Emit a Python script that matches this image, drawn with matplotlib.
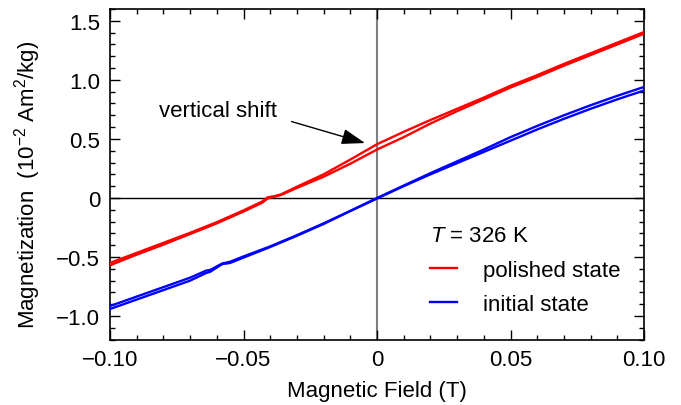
import matplotlib
matplotlib.use("Agg")
import matplotlib.pyplot as plt
from matplotlib.ticker import FixedLocator, FixedFormatter, MultipleLocator

plt.rcParams['font.family'] = ['Liberation Sans', 'DejaVu Sans']
plt.rcParams['mathtext.fontset'] = 'custom'
plt.rcParams['mathtext.rm'] = 'Liberation Sans'
plt.rcParams['mathtext.it'] = 'Liberation Sans:italic'
plt.rcParams['font.size'] = 16

# ---- data ----
H_red = [-0.10, -0.09, -0.08, -0.07, -0.06, -0.05, -0.043, -0.041, -0.0385, -0.036,
         -0.03, -0.02, -0.01, 0.0, 0.01, 0.02, 0.03, 0.04, 0.05, 0.06, 0.07, 0.08, 0.09, 0.10]
M_red_upper = [-0.55, -0.465, -0.38, -0.295, -0.205, -0.105, -0.03, 0.005, 0.015, 0.03,
               0.095, 0.20, 0.325, 0.455, 0.56, 0.66, 0.755, 0.85, 0.95, 1.04, 1.135, 1.225, 1.315, 1.405]
M_red_lower = [-0.57, -0.48, -0.395, -0.305, -0.215, -0.115, -0.04, -0.005, 0.01, 0.025,
               0.085, 0.18, 0.29, 0.41, 0.515, 0.63, 0.735, 0.835, 0.935, 1.025, 1.12, 1.21, 1.30, 1.39]

H_blue = [-0.10, -0.09, -0.08, -0.07, -0.064, -0.0625, -0.058, -0.055, -0.05, -0.04, -0.03,
          -0.02, -0.01, 0.0, 0.01, 0.02, 0.03, 0.04, 0.05, 0.06, 0.07, 0.08, 0.09, 0.10]
M_blue_upper = [-0.915, -0.835, -0.755, -0.675, -0.615, -0.61, -0.555, -0.54, -0.495, -0.41, -0.315,
                -0.215, -0.11, 0.0, 0.105, 0.21, 0.31, 0.41, 0.515, 0.61, 0.70, 0.785, 0.865, 0.94]
M_blue_lower = [-0.94, -0.86, -0.78, -0.70, -0.635, -0.625, -0.56, -0.55, -0.505, -0.415, -0.32,
                -0.22, -0.11, -0.005, 0.10, 0.20, 0.295, 0.39, 0.485, 0.58, 0.67, 0.755, 0.835, 0.91]

x_ticks = [-0.10, -0.05, 0.0, 0.05, 0.10]
x_labels = ['\u22120.10', '\u22120.05', '0', '0.05', '0.10']
y_ticks = [-1.0, -0.5, 0.0, 0.5, 1.0, 1.5]
y_labels = ['\u22121.0', '\u22120.5', '0', '0.5', '1.0', '1.5']

fig = plt.figure(figsize=(6.81, 4.06), dpi=100)
ax = fig.add_axes([110/681, 1 - 340.7/406, (644-110)/681, (340.7-10)/406])

ax.axhline(0, color='black', lw=1.0, zorder=1)
ax.axvline(0, color='#808080', lw=1.5, zorder=1)

ax.plot(H_red, M_red_upper, color='#ff0000', lw=1.7, label='polished state', zorder=3)
ax.plot(H_red, M_red_lower, color='#ff0000', lw=1.7, zorder=3)
ax.plot(H_blue, M_blue_upper, color='#0000ff', lw=1.7, label='initial state', zorder=3)
ax.plot(H_blue, M_blue_lower, color='#0000ff', lw=1.7, zorder=3)

ax.set_xlim(-0.10, 0.10)
ax.set_ylim(-1.2, 1.6)

ax.xaxis.set_major_locator(FixedLocator(x_ticks))
ax.xaxis.set_major_formatter(FixedFormatter(x_labels))
ax.xaxis.set_minor_locator(MultipleLocator(0.01))
ax.yaxis.set_major_locator(FixedLocator(y_ticks))
ax.yaxis.set_major_formatter(FixedFormatter(y_labels))
ax.yaxis.set_minor_locator(MultipleLocator(0.1))

ax.tick_params(which='both', direction='in', top=True, right=True, color='black')
ax.tick_params(which='major', length=7, width=1.0, labelsize=16)
ax.tick_params(axis='x', which='major', pad=7)
ax.tick_params(axis='y', which='major', pad=7)
ax.tick_params(which='minor', length=3.6, width=1.0)
for s in ax.spines.values():
    s.set_linewidth(1.2)

ax.set_xlabel('Magnetic Field (T)', fontsize=16, labelpad=7)
ax.set_ylabel('Magnetization  (10$^{-2}$ Am$^2$/kg)', fontsize=16)
ax.yaxis.set_label_coords(-0.125, 0.472)

ax.text(-0.0595, 0.74, 'vertical shift', ha='center', va='center', fontsize=16)
ax.annotate('', xy=(-0.0045, 0.465), xytext=(-0.032, 0.647),
            arrowprops=dict(arrowstyle='-|>,head_length=0.9,head_width=0.3', color='black',
                            lw=1.0, shrinkA=0, shrinkB=0))

leg = ax.legend(loc='upper left', bbox_to_anchor=(0.599, 0.346), frameon=False,
                title='$T$ = 326 K', title_fontsize=16, fontsize=16,
                handlelength=1.2, handletextpad=1.2, labelspacing=0.6,
                borderpad=0, borderaxespad=0)
leg._legend_box.align = 'left'

fig.savefig('out.png', dpi=100)
